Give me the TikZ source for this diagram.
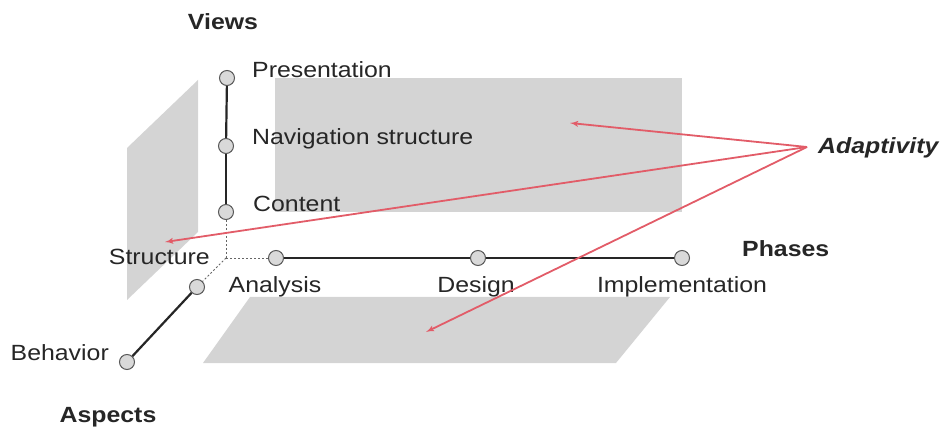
\documentclass[tikz,border=0pt]{standalone}
\usepackage{fontspec}
\setmainfont[FakeStretch=1.13]{Liberation Sans}
\usetikzlibrary{arrows}
\definecolor{adaptred}{RGB}{226,92,104}
\tikzset{
    plane/.style={fill=black!17, draw=none},
    axis/.style={draw=black!85, line width=2.2pt},
    hidden/.style={draw=black!60, dash pattern=on 2pt off 2pt, line width=0.9pt},
    stage/.style={circle, draw=black!65, fill=black!15, line width=1pt, minimum size=15pt, inner sep=0pt},
    adapt/.style={draw=adaptred, line width=1.8pt, -latex'},
    lbl/.style={inner sep=0pt, text height=16pt, text depth=4pt, text=black!85, font=\fontsize{22}{26}\selectfont},
    title/.style={lbl, font=\fontsize{22}{26}\selectfont\bfseries},
}
\begin{document}
\begin{tikzpicture}[x=1pt,y=-1pt]
		\useasboundingbox (0,0) rectangle (945,430);
		% The gray planes
		\fill[plane] (275,78) rectangle (682,212);
		\fill[plane] (127,148) -- (198,80) -- (198,232) -- (127,300) -- cycle;
		\fill[plane] (250,297) -- (670,297) -- (616,363) -- (203,363) -- cycle;
		% Where the three axes meet
		\coordinate (orig) at (226,258);
		% The views
		\node[stage] (pres) at (227,78) {};
		\node[stage] (nav) at (226,146) {};
		\node[stage] (cont) at (226,212) {};
		\draw[axis] (pres) -- (nav);
		\draw[axis] (nav) -- (cont);
		\draw[hidden] (cont) -- (orig);
		% The phases
		\node[stage] (ana) at (276,258) {};
		\node[stage] (des) at (478,258) {};
		\node[stage] (impl) at (682,258) {};
		\draw[hidden] (orig) -- (ana);
		\draw[axis] (ana) -- (des);
		\draw[axis] (des) -- (impl);
		% The aspects
		\node[stage] (struc) at (197,287) {};
		\node[stage] (behav) at (127,362) {};
		\draw[hidden] (orig) -- (struc);
		\draw[axis] (struc) -- (behav);
		% Labels
		\node[title] (views) at (223,24) {Views};
		\node[lbl, anchor=west] (presl) at (252,72) {Presentation};
		\node[lbl, anchor=west] (navl) at (252,139) {Navigation structure};
		\node[lbl, anchor=west] (contl) at (253,206) {Content};
		\node[lbl, anchor=east] (strucl) at (210,259) {Structure};
		\node[lbl] (anal) at (275,287) {Analysis};
		\node[lbl] (desl) at (476,287) {Design};
		\node[lbl] (impll) at (682,287) {Implementation};
		\node[title, anchor=west] (phases) at (742,251) {Phases};
		\node[lbl, anchor=east] (behavl) at (109,354) {Behavior};
		\node[title] (aspects) at (108,416) {Aspects};
		\node[title, anchor=west, font=\fontsize{22}{26}\selectfont\bfseries\itshape] (adaptl) at (818,148) {Adaptivity};
		% The adaptivity arrows
		\coordinate (src) at (807,147);
		\coordinate (tipback) at (570,123);
		\coordinate (tipstruc) at (165,242);
		\coordinate (tipfloor) at (426,332);
		\draw[adapt] (src) -- (tipback);
		\draw[adapt] (src) -- (tipstruc);
		\draw[adapt] (src) -- (tipfloor);
	\end{tikzpicture}
\end{document}
